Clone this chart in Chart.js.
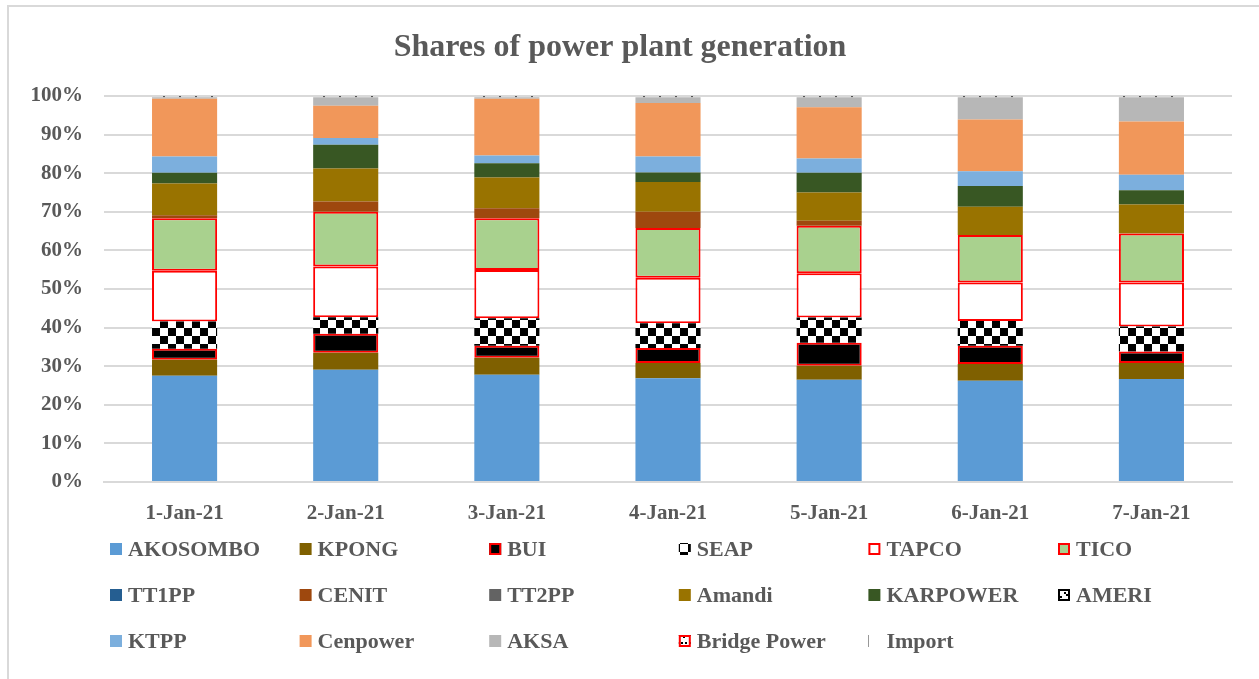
<!DOCTYPE html>
<html>
<head>
<meta charset="utf-8">
<title>Shares of power plant generation</title>
<script src="https://cdn.jsdelivr.net/npm/chart.js@4.4.0/dist/chart.umd.min.js"></script>
<style>
  html, body { margin: 0; padding: 0; background: #fff; overflow: hidden; }
  #wrap { position: relative; width: 1259px; height: 679px; }
</style>
</head>
<body>
<div id="wrap"><canvas id="gen_chart"></canvas></div>
<script>
// days and shares (% of daily generation)
const days = ["1-Jan-21", "2-Jan-21", "3-Jan-21", "4-Jan-21", "5-Jan-21", "6-Jan-21", "7-Jan-21"];
const yTicks = [0, 10, 20, 30, 40, 50, 60, 70, 80, 90, 100];

const akosombo = [27.5, 29.1, 27.8, 26.9, 26.5, 26.2, 26.7];
const kpong = [4.2, 4.4, 4.4, 3.9, 3.6, 4.4, 4.1];
const bui = [2.8, 4.9, 3.1, 3.9, 6.0, 4.7, 3.0];
const seap = [7.1, 4.3, 7.1, 6.4, 6.5, 6.4, 6.5];
const tapco = [13.1, 13.1, 12.5, 11.8, 11.5, 10.0, 11.4];
const tico = [13.6, 14.2, 13.4, 12.9, 12.3, 12.3, 12.7];
const tt1pp = [0, 0, 0, 0, 0, 0, 0];
const cenit = [0.8, 2.7, 2.6, 4.2, 1.3, 0, 0];
const tt2pp = [0, 0, 0, 0, 0, 0, 0];
const amandi = [8.2, 8.5, 8.0, 7.7, 7.3, 7.3, 7.5];
const karpower = [2.8, 6.2, 3.7, 2.5, 5.1, 5.4, 3.7];
const ameri = [0, 0, 0, 0, 0, 0, 0];
const ktpp = [4.2, 1.7, 2.0, 4.1, 3.7, 3.8, 4.0];
const cenpower = [15.0, 8.4, 14.7, 13.9, 13.3, 13.4, 13.8];
const aksa = [0.4, 2.2, 0.4, 1.5, 2.6, 5.8, 6.3];
const bridgePower = [0, 0, 0, 0, 0, 0, 0];
const importPower = [0.3, 0.3, 0.3, 0.3, 0.3, 0.3, 0.3];

const FONT = '"Liberation Serif", "DejaVu Serif", serif';
const TEXT = "#595959";
const RED = "#ff0000";

// little pattern tiles for the hatched series
const makePattern = (w, h, draw) => {
  const c = document.createElement("canvas");
  c.width = w;
  c.height = h;
  draw(c.getContext("2d"));
  return c.getContext("2d").createPattern(c, "repeat");
};

const checker = makePattern(16, 16, (g) => {
  g.fillStyle = "#fff";
  g.fillRect(0, 0, 16, 16);
  g.fillStyle = "#000";
  g.fillRect(0, 0, 8, 8);
  g.fillRect(8, 8, 8, 8);
});

const ameriFill = makePattern(8, 8, (g) => {
  g.fillStyle = "#fff";
  g.fillRect(0, 0, 8, 8);
  g.fillStyle = "#000";
  g.fillRect(0, 0, 2, 2);
  g.fillRect(2, 2, 2, 2);
  g.fillRect(4, 4, 2, 2);
});

const bridgeFill = makePattern(8, 8, (g) => {
  g.fillStyle = "#fff";
  g.fillRect(0, 0, 8, 8);
  g.fillStyle = "#000";
  g.fillRect(1, 2, 2, 2);
  g.fillRect(5, 2, 2, 2);
  g.fillRect(3, 5, 2, 1);
});

const dots = makePattern(16, 2, (g) => {
  g.fillStyle = "#555";
  g.fillRect(3, 0, 2, 2);
});

const series = (label, data, bg, border) => ({
  label: label,
  data: data,
  backgroundColor: bg,
  borderColor: border || bg,
  borderWidth: border ? 2 : 0,
  borderSkipped: false,
  barPercentage: 0.404,
  categoryPercentage: 1,
});

const datasets = [
  series("AKOSOMBO", akosombo, "#5b9bd5"),
  series("KPONG", kpong, "#7f6000"),
  series("BUI", bui, "#000000", RED),
  series("SEAP", seap, checker),
  series("TAPCO", tapco, "#ffffff", RED),
  series("TICO", tico, "#a9d18e", RED),
  series("TT1PP", tt1pp, "#255e91"),
  series("CENIT", cenit, "#9e480e"),
  series("TT2PP", tt2pp, "#636363"),
  series("Amandi", amandi, "#997300"),
  series("KARPOWER", karpower, "#385723"),
  series("AMERI", ameri, ameriFill, "#000000"),
  series("KTPP", ktpp, "#7cafdd"),
  series("Cenpower", cenpower, "#f1975a"),
  series("AKSA", aksa, "#b7b7b7"),
  series("Bridge Power", bridgePower, bridgeFill, RED),
  series("Import", importPower, dots),
];

// legend in fixed columns like the excel one
const gridLegend = {
  id: "gridLegend",
  afterDraw(chart) {
    const ctx = chart.ctx;
    const base = chart.chartArea.bottom;
    ctx.save();
    ctx.font = "bold 22px " + FONT;
    ctx.textBaseline = "middle";
    chart.data.datasets.forEach((ds, i) => {
      const x = 110 + (i % 6) * 189.6;
      const y = base + 67 + Math.floor(i / 6) * 46;
      ctx.fillStyle = ds.backgroundColor;
      ctx.fillRect(x, y - 6, 12, 12);
      if (ds.borderWidth) {
        ctx.strokeStyle = ds.borderColor;
        ctx.lineWidth = 2;
        ctx.strokeRect(x + 1, y - 5, 10, 10);
      }
      ctx.fillStyle = TEXT;
      ctx.fillText(ds.label, x + 18, y + 1);
    });
    ctx.restore();
  },
};

// grey chart-area frame, its right and bottom edges sit outside the shot
const frame = {
  id: "frame",
  beforeDraw(chart) {
    const ctx = chart.ctx;
    ctx.save();
    ctx.strokeStyle = "#d9d9d9";
    ctx.lineWidth = 2;
    ctx.strokeRect(8, 6, 1300, 700);
    ctx.restore();
  },
};

const config = {
  type: "bar",
  data: {
    labels: days,
    datasets: datasets,
  },
  options: {
    responsive: false,
    animation: false,
    layout: { padding: { top: 6, left: 8, right: 27, bottom: 0 } },
    plugins: {
      legend: { display: false },
      tooltip: { enabled: false },
      title: {
        display: true,
        text: "Shares of power plant generation",
        color: TEXT,
        font: { family: FONT, size: 32, weight: "bold" },
        padding: { top: 23, bottom: 28.6 },
      },
    },
    scales: {
      x: {
        stacked: true,
        grid: { display: false, drawTicks: false },
        border: { display: true, color: "#d9d9d9", width: 2 },
        ticks: {
          color: TEXT,
          padding: 19,
          font: { family: FONT, size: 21, weight: "bold" },
        },
        afterFit: (s) => {
          s.height = 197;
        },
      },
      y: {
        stacked: true,
        min: 0,
        max: 100,
        afterBuildTicks: (s) => {
          s.ticks = yTicks.map((v) => ({ value: v }));
        },
        grid: { color: "#d9d9d9", lineWidth: 2, drawTicks: false },
        border: { display: false },
        ticks: {
          color: TEXT,
          padding: 21,
          font: { family: FONT, size: 21, weight: "bold" },
          callback: (v) => v + "%",
        },
        afterFit: (s) => {
          s.width = 96;
        },
      },
    },
  },
  plugins: [frame, gridLegend],
};

const canvas = document.getElementById("gen_chart");
canvas.width = 1259;
canvas.height = 679;
const genChart = new Chart(canvas, config);
</script>
</body>
</html>
